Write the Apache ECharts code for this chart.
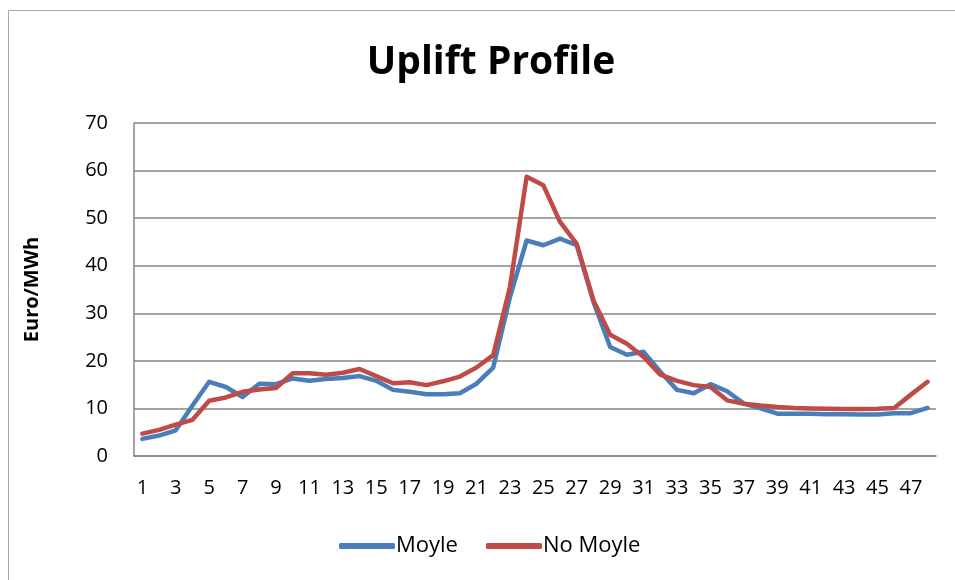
<!DOCTYPE html>
<html>
<head>
<meta charset="utf-8">
<script src="https://cdn.jsdelivr.net/npm/echarts@6/dist/echarts.min.js"></script>
<style>
  html, body { margin: 0; padding: 0; background: #fff; }
  #chart { width: 955px; height: 580px; }
</style>
</head>
<body>
<div id="chart"></div>
<script>
// half-hour periods 1..48
var periods = [];
for (var i = 1; i <= 48; i++) periods.push(String(i));

var moyle = [
  3.6, 4.3, 5.4, 10.6, 15.6, 14.5, 12.4, 15.2, 15.1, 16.3,
  15.8, 16.2, 16.4, 16.8, 15.8, 13.9, 13.5, 13.0, 13.0, 13.2,
  15.2, 18.6, 33.4, 45.3, 44.3, 45.7, 44.3, 32.4, 22.9, 21.3,
  21.9, 17.7, 13.9, 13.2, 15.1, 13.6, 11.0, 10.0, 8.9, 8.9,
  8.9, 8.8, 8.8, 8.7, 8.7, 9.0, 9.0, 10.1
];

var noMoyle = [
  4.7, 5.5, 6.6, 7.6, 11.6, 12.3, 13.5, 14.0, 14.3, 17.4,
  17.4, 17.1, 17.5, 18.3, 16.8, 15.3, 15.5, 14.9, 15.7, 16.7,
  18.6, 21.2, 35.5, 58.7, 56.9, 49.2, 44.6, 32.7, 25.5, 23.6,
  20.8, 17.1, 15.8, 14.9, 14.5, 11.7, 11.0, 10.6, 10.3, 10.1,
  10.0, 9.95, 9.9, 9.9, 9.95, 10.1, 12.9, 15.6
];

var chart = echarts.init(document.getElementById('chart'));
var font = 'Open Sans';

var option = {
  animation: false,
  backgroundColor: '#fff',
  graphic: [{
    type: 'rect',
    shape: { x: 8.5, y: 10.5, width: 960, height: 580 },
    style: { fill: 'none', stroke: '#a6a6a6', lineWidth: 1 },
    silent: true
  }],
  title: {
    text: 'Uplift Profile',
    left: 486,
    top: 38,
    textAlign: 'center',
    textStyle: { fontFamily: font, fontSize: 39, fontWeight: 'bold', color: '#000' }
  },
  legend: {
    bottom: 18,
    left: 334,
    itemWidth: 56,
    itemHeight: 6,
    itemGap: 28,
    icon: 'roundRect',
    textStyle: { fontFamily: font, fontSize: 22, color: '#000', padding: [0, 0, 0, -4] },
    data: ['Moyle', 'No Moyle']
  },
  grid: { left: 134, right: 19, top: 123, bottom: 124 },
  xAxis: {
    type: 'category',
    data: periods,
    boundaryGap: true,
    axisLine: { lineStyle: { color: '#868686', width: 1.5 } },
    axisTick: { show: false },
    axisLabel: {
      interval: 1,
      margin: 22,
      fontFamily: font,
      fontSize: 20,
      color: '#000'
    }
  },
  yAxis: {
    type: 'value',
    min: 0,
    max: 70,
    interval: 10,
    name: 'Euro/MWh',
    nameLocation: 'middle',
    nameGap: 92,
    nameRotate: 90,
    nameTextStyle: { fontFamily: font, fontSize: 20, fontWeight: 'bold', color: '#000' },
    axisLine: { show: true, lineStyle: { color: '#868686', width: 1.5 } },
    axisTick: { show: false },
    axisLabel: { margin: 26, fontFamily: font, fontSize: 20, color: '#000' },
    splitLine: { lineStyle: { color: '#868686', width: 1.5 } }
  },
  series: [
    {
      name: 'Moyle',
      type: 'line',
      data: moyle,
      symbol: 'none',
      color: '#4a7ebb',
      lineStyle: { width: 4.5, color: '#4a7ebb', cap: 'round', join: 'round' }
    },
    {
      name: 'No Moyle',
      type: 'line',
      data: noMoyle,
      symbol: 'none',
      color: '#be4b48',
      lineStyle: { width: 4.5, color: '#be4b48', cap: 'round', join: 'round' }
    }
  ]
};

chart.setOption(option);
</script>
</body>
</html>
